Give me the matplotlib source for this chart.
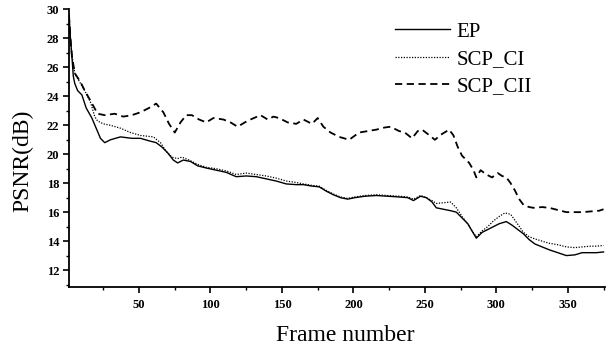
import matplotlib
matplotlib.use("Agg")
import matplotlib.pyplot as plt
from matplotlib.ticker import MultipleLocator

plt.rcParams['font.family'] = ['Liberation Serif', 'DejaVu Serif']

# ---- data ----
ep_frames = [1, 2, 3, 4, 5, 7, 10, 13, 17, 20, 23, 26, 30, 37, 45, 51, 58, 62, 66, 70,
             74, 77, 81, 86, 91, 97, 104, 111, 118, 125, 132, 139, 146, 153, 160, 165,
             171, 176, 181, 186, 191, 196, 201, 208, 216, 224, 232, 238, 242, 247, 251,
             255, 258, 263, 268, 272, 276, 280, 283, 286, 290, 294, 298, 302, 307, 311,
             315, 319, 323, 327, 332, 337, 343, 349, 355, 360, 366, 370, 375]
ep_psnr = [29.6, 28.0, 26.8, 25.4, 24.9, 24.4, 24.1, 23.2, 22.5, 21.8, 21.1, 20.8, 21.0,
           21.2, 21.1, 21.1, 20.9, 20.8, 20.5, 20.1, 19.6, 19.4, 19.6, 19.5, 19.2, 19.05,
           18.9, 18.75, 18.45, 18.5, 18.45, 18.3, 18.15, 17.95, 17.9, 17.9, 17.8, 17.75,
           17.45, 17.2, 17.0, 16.9, 17.0, 17.1, 17.15, 17.1, 17.05, 17.0, 16.8, 17.1, 17.0,
           16.7, 16.3, 16.2, 16.1, 16.0, 15.6, 15.2, 14.7, 14.2, 14.6, 14.8, 15.0, 15.2,
           15.35, 15.1, 14.8, 14.5, 14.1, 13.8, 13.6, 13.4, 13.2, 13.0, 13.05, 13.2, 13.2,
           13.2, 13.25]

ci_frames = [1, 2, 3, 5, 9, 13, 16, 19, 21, 25, 30, 37, 44, 51, 60, 65, 69, 73, 77, 80,
             85, 91, 97, 104, 111, 118, 125, 132, 139, 146, 153, 160, 165, 171, 176, 181,
             186, 191, 196, 201, 208, 216, 224, 232, 238, 242, 247, 251, 255, 258, 263,
             268, 272, 276, 280, 283, 286, 290, 294, 298, 302, 306, 310, 314, 319, 323,
             327, 332, 337, 343, 349, 355, 360, 366, 370, 375]
ci_psnr = [29.6, 28.0, 26.9, 25.6, 24.9, 24.2, 23.6, 22.6, 22.3, 22.1, 22.0, 21.8, 21.5,
           21.3, 21.2, 20.8, 20.2, 19.8, 19.7, 19.8, 19.6, 19.3, 19.1, 19.0, 18.85, 18.6,
           18.7, 18.6, 18.5, 18.35, 18.15, 18.05, 17.95, 17.85, 17.8, 17.5, 17.25, 17.05,
           16.95, 17.05, 17.15, 17.2, 17.15, 17.1, 17.05, 16.9, 17.15, 17.0, 16.8, 16.6,
           16.65, 16.7, 16.3, 15.7, 15.2, 14.7, 14.3, 14.7, 15.0, 15.4, 15.7, 15.95, 15.85,
           15.3, 14.6, 14.3, 14.15, 14.0, 13.85, 13.75, 13.6, 13.55, 13.6, 13.65, 13.65,
           13.7]

cii_frames = [1, 2, 3, 5, 9, 12, 16, 21, 26, 33, 39, 45, 51, 57, 62, 67, 71, 75, 79, 83,
              87, 92, 97, 102, 109, 114, 119, 124, 128, 135, 140, 144, 148, 154, 160, 165,
              171, 175, 179, 184, 190, 197, 204, 210, 216, 222, 226, 232, 236, 241, 245,
              248, 252, 257, 262, 267, 270, 273, 276, 281, 284, 286, 289, 293, 297, 301,
              304, 307, 310, 313, 316, 319, 323, 326, 332, 337, 343, 349, 355, 360, 366,
              372, 375]
cii_psnr = [29.6, 28.0, 26.8, 25.6, 25.0, 24.4, 23.7, 22.8, 22.7, 22.8, 22.6, 22.7, 22.9,
            23.2, 23.5, 22.9, 22.1, 21.5, 22.2, 22.7, 22.7, 22.4, 22.2, 22.5, 22.4, 22.2,
            21.9, 22.2, 22.4, 22.7, 22.4, 22.6, 22.5, 22.2, 22.1, 22.4, 22.1, 22.5, 21.9,
            21.5, 21.2, 21.0, 21.5, 21.6, 21.7, 21.85, 21.9, 21.6, 21.5, 21.1, 21.6, 21.7,
            21.4, 21.0, 21.4, 21.7, 21.3, 20.5, 19.9, 19.4, 18.9, 18.4, 18.9, 18.6, 18.4,
            18.7, 18.5, 18.4, 18.0, 17.5, 16.9, 16.5, 16.35, 16.3, 16.35, 16.3, 16.15, 16.0,
            16.0, 16.0, 16.05, 16.1, 16.2]

series_labels = ["EP", "SCP_CI", "SCP_CII"]
x_label = "Frame number"
y_label = "PSNR(dB)"

# ---- figure ----
fig = plt.figure(figsize=(6.08, 3.49), dpi=100)
ax = fig.add_axes([0.1135, 0.1785, 0.8815, 0.7943])

ax.plot(ep_frames, ep_psnr, color='black', lw=1.0, linestyle='-', label=series_labels[0])
ax.plot(ci_frames, ci_psnr, color='black', lw=0.9, linestyle=(0, (1, 1.2)), label=series_labels[1])
ax.plot(cii_frames, cii_psnr, color='black', lw=1.3, linestyle=(0, (4, 2.5)), label=series_labels[2])

ax.set_xlim(1, 376)
ax.set_ylim(10.85, 30)
ax.xaxis.set_major_locator(MultipleLocator(50))
ax.xaxis.set_minor_locator(MultipleLocator(25))
ax.yaxis.set_major_locator(MultipleLocator(2))
ax.yaxis.set_minor_locator(MultipleLocator(1))
ax.set_yticks([12, 14, 16, 18, 20, 22, 24, 26, 28, 30])

for s in ['top', 'right']:
    ax.spines[s].set_visible(False)
for s in ['left', 'bottom']:
    ax.spines[s].set_linewidth(1.3)

ax.tick_params(which='major', direction='out', length=4, width=1.2, labelsize=9, pad=3)
ax.tick_params(axis='x', which='major', pad=5)
ax.tick_params(which='minor', direction='out', length=2.5, width=1.0)
for lab in ax.get_xticklabels() + ax.get_yticklabels():
    lab.set_fontweight('bold')

ax.set_xlabel(x_label, fontsize=17)
ax.set_ylabel(y_label, fontsize=17)
ax.xaxis.set_label_coords(0.515, -0.138)
ax.yaxis.set_label_coords(-0.067, 0.455)

leg = ax.legend(frameon=False, loc='upper left', bbox_to_anchor=(395 / 608, 1 - 22 / 349),
                bbox_transform=fig.transFigure, fontsize=15, handlelength=2.65,
                handletextpad=0.3, labelspacing=0.38, borderpad=0, borderaxespad=0)

fig.savefig("out.png", dpi=100)
